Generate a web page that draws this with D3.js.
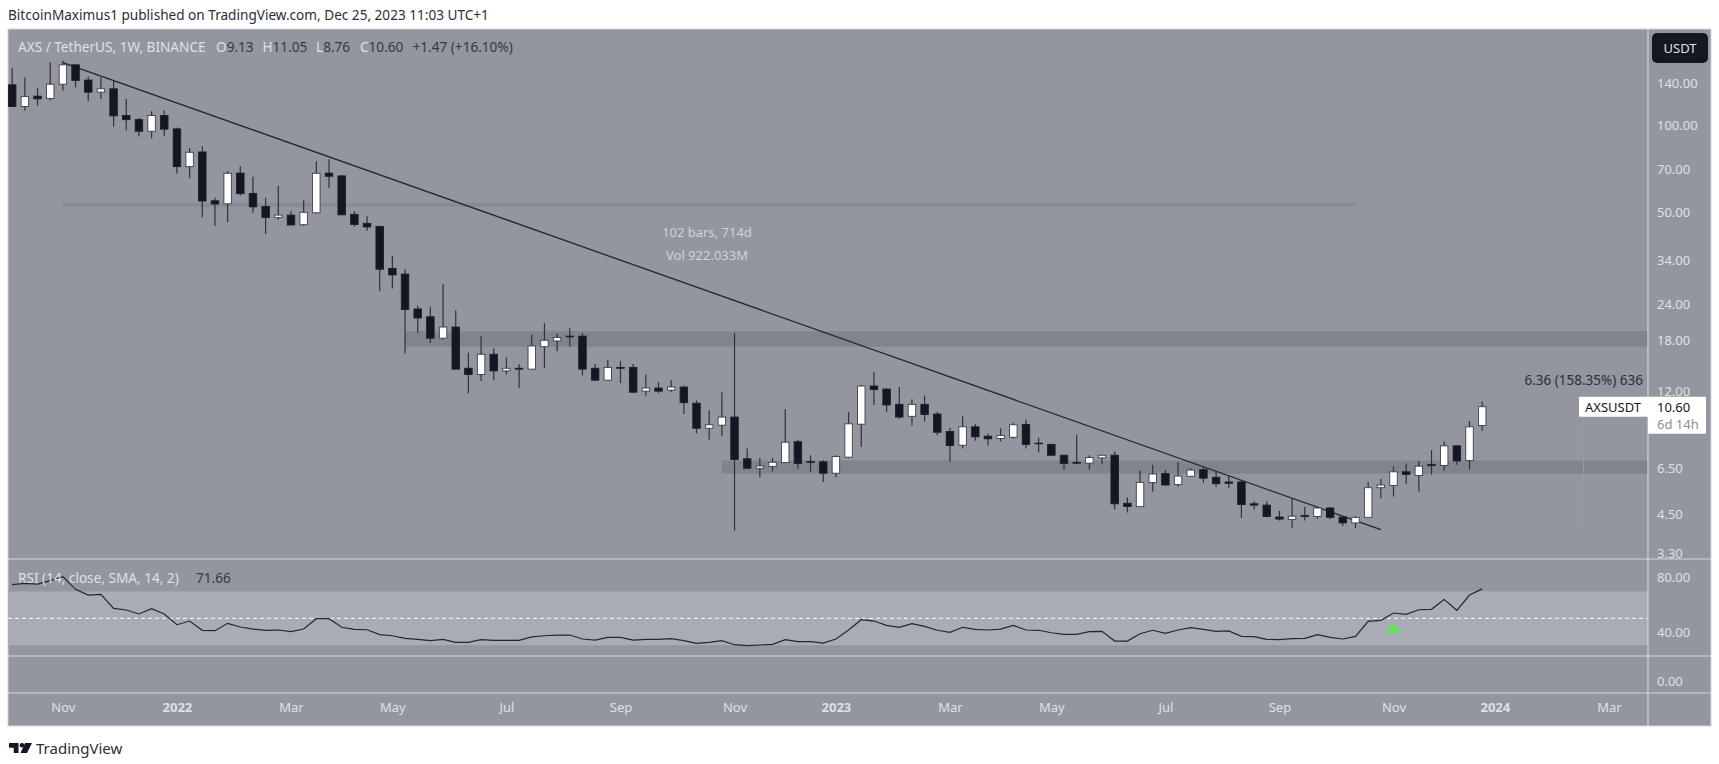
<!DOCTYPE html>
<html lang="en">
<head>
<title>AXS / TetherUS</title>
<meta charset="utf-8">
<style>
  body { margin: 0; background: #fff; }
  svg { display: block; font-family: 'Noto Sans', sans-serif; }
  .tick text { fill: #dfe1e6; font-size: 13px; font-family: 'Noto Sans', sans-serif; }
  .light { fill: #dfe1e6; }
  .dark { fill: #363942; }
</style>
</head>

<body>
<div id="chart"></div>

<script src="https://cdn.jsdelivr.net/npm/d3@7"></script>

<script type="text/javascript" charset="utf-8">

// weekly bars, first one is the week of 4 Oct 2021
var firstBar = "2021-10-04";

var opens = [137.8,115.9,125.9,123.5,138.5,161.6,143.1,130.0,133.5,107.9,
  104.4,95.2,107.9,97.0,71.8,80.7,54.7,53.4,68.2,58.0,
  52.3,47.9,48.8,45.2,49.7,68.2,66.7,49.1,45.7,44.6,
  31.9,30.5,23.1,21.7,18.3,20.0,14.4,13.7,16.1,14.1,
  14.4,14.3,17.1,17.9,18.6,18.6,14.4,13.1,14.5,14.5,
  12.0,12.3,12.1,12.4,10.9,8.93,9.15,9.76,7.0,6.49,
  6.59,6.79,8.02,6.85,6.83,6.24,7.09,9.22,12.5,12.2,
  10.8,9.82,10.8,10.0,8.7,7.8,9.03,8.38,8.23,8.31,
  9.2,7.93,7.85,7.2,6.8,6.76,7.05,7.2,4.91,4.78,
  5.79,6.22,5.7,6.09,6.42,6.04,5.82,5.82,4.89,4.84,
  4.4,4.32,4.46,4.42,4.73,4.4,4.2,4.39,5.56,5.66,
  6.31,6.13,6.68,6.64,7.76,6.9,9.13];

var highs = [157.3,146.4,134.8,165.1,166.9,161.6,147.2,146.4,143.4,123.0,
  105.7,111.7,112.3,98.0,83.3,84.5,56.0,69.2,72.0,66.3,
  56.0,61.6,50.3,54.9,74.9,76.2,67.2,50.4,48.4,44.6,
  35.2,31.7,23.7,23.5,28.2,22.8,16.3,18.6,16.9,15.7,
  14.9,18.8,20.6,19.0,19.9,19.1,14.9,15.4,15.3,14.9,
  13.7,12.9,13.1,12.55,11.15,10.3,11.9,19.1,7.6,7.05,
  7.05,10.4,8.15,7.2,6.92,7.2,10.16,12.6,13.95,12.25,
  12.4,11.25,11.6,10.16,8.96,9.8,9.25,8.56,8.91,9.33,
  9.58,8.28,7.89,7.23,8.47,7.2,7.23,7.42,5.15,6.37,
  6.67,6.4,6.83,6.49,6.56,6.32,6.09,5.88,4.99,4.99,
  4.62,5.12,4.78,4.78,4.77,4.44,4.44,5.82,5.96,6.59,
  6.74,6.88,7.5,8.03,7.76,9.47,11.05];

var lows = [115.9,112.2,116.8,121.5,131.7,134.8,121.2,123.2,98.8,95.7,
  91.2,90.0,91.5,67.9,65.4,47.9,44.7,46.1,57.0,49.7,
  42.0,47.0,45.1,44.7,49.3,60.6,48.9,44.5,43.0,26.6,
  27.2,16.2,19.1,17.6,18.1,14.3,11.8,13.0,13.1,13.7,
  12.3,14.3,14.4,16.5,17.1,13.6,13.0,13.0,12.8,11.8,
  11.6,11.8,11.9,10.0,8.58,8.16,8.38,3.95,6.49,6.04,
  6.33,6.79,6.47,6.32,5.82,6.04,7.04,7.69,10.75,10.16,
  9.63,9.13,9.42,8.45,6.83,7.6,8.08,7.78,8.03,8.22,
  7.6,7.36,7.2,6.42,6.72,6.42,6.69,4.67,4.56,4.78,
  5.39,5.65,5.6,6.07,5.79,5.6,5.55,4.37,4.67,4.39,
  4.28,4.04,4.28,4.34,4.32,4.1,4.02,4.39,5.11,5.18,
  5.73,5.39,6.17,6.37,6.68,6.42,8.76];

var closes = [115.9,125.5,123.2,138.5,161.6,142.6,130.0,133.5,107.6,104.4,
  95.2,107.9,96.8,71.8,80.5,54.6,53.3,68.1,57.9,52.1,
  47.9,48.8,45.1,49.9,68.1,66.5,48.9,45.3,44.4,31.7,
  30.3,23.0,21.5,18.3,20.0,14.3,13.7,16.1,14.1,14.4,
  14.3,17.2,18.0,18.4,18.5,14.3,13.1,14.5,14.4,11.9,
  12.3,12.0,12.4,10.95,8.93,9.18,9.76,6.96,6.49,6.61,
  6.81,7.99,6.74,6.81,6.24,7.13,9.25,12.5,12.15,10.75,
  9.76,10.8,9.96,8.65,7.78,9.03,8.34,8.21,8.43,9.18,
  7.85,7.89,7.2,6.74,6.76,7.07,7.2,4.89,4.79,5.8,
  6.2,5.68,6.1,6.4,6.0,5.74,5.76,4.86,4.84,4.42,
  4.33,4.43,4.42,4.73,4.39,4.2,4.39,5.56,5.68,6.31,
  6.18,6.6,6.63,7.76,6.88,9.03,10.60];

var rsiValues = [74.7,75.7,75.2,77.7,80.6,71.3,67.1,67.6,57.3,56.1,
  53.2,57.1,53.2,45.3,48.0,41.2,40.9,46.3,43.6,42.1,
  41.2,41.4,40.2,42.1,49.7,49.7,43.4,41.9,41.6,38.0,
  37.2,35.3,34.5,33.6,34.5,32.3,32.3,34.3,33.8,33.8,
  33.8,36.3,37.2,37.7,37.7,34.8,34.0,36.0,36.0,34.0,
  34.5,34.5,35.0,33.6,31.6,32.3,33.6,30.6,29.9,30.4,
  30.9,34.3,32.8,32.8,31.8,34.8,41.4,49.0,48.0,44.8,
  43.4,46.1,44.1,41.2,39.7,43.4,41.9,41.4,42.1,44.8,
  41.4,41.2,39.4,38.2,38.2,40.2,40.4,33.3,33.3,38.7,
  41.2,38.9,41.4,43.1,41.9,40.4,40.7,36.7,36.5,34.5,
  34.3,35.0,35.3,38.0,36.0,34.8,36.7,47.8,48.5,53.9,
  52.9,56.3,56.6,63.9,55.9,67.1,71.66];

var priceTicks = [140, 100, 70, 50, 34, 24, 18, 12, 6.5, 4.5, 3.3];
var rsiTicks = [80, 40, 0];
var monthTicks = ["2021-11-01","2022-01-03","2022-03-07","2022-05-02","2022-07-04","2022-09-05","2022-11-07",
  "2023-01-02","2023-03-06","2023-05-01","2023-07-03","2023-09-04","2023-11-06","2024-01-01","2024-03-04"];
var monthLabels = ["Nov","2022","Mar","May","Jul","Sep","Nov","2023","Mar","May","Jul","Sep","Nov","2024","Mar"];

// grey zones: low price, high price, first week, last week
var zoneLow = [52.1, 17.1, 6.22];
var zoneHigh = [53.8, 19.35, 6.9];
var zoneFrom = ["2021-11-01", "2022-05-09", "2022-10-31"];
var zoneTo = ["2023-10-16", "2024-06-24", "2024-06-24"];
var zoneFill = ["#888b94", "#81848d", "#81848d"];

var trendDates = ["2021-11-01", "2023-10-30"];
var trendPrices = [164.6, 3.98];

var bars = closes.map(function (d, i) {
  return {
    date: d3.utcDay.offset(new Date(firstBar), i * 7),
    open: opens[i], high: highs[i], low: lows[i], close: d, rsi: rsiValues[i]
  };
});

var W = 1719, H = 764;
var plotLeft = 8, plotRight = 1648, panelRight = 1711, panelTop = 29, mainBottom = 559, rsiLine = 656, rsiBottom = 693, panelBottom = 726;

var x = d3.scaleUtc().domain([bars[0].date, bars[bars.length - 1].date]).range([12.2, 1482.2]);
var y = d3.scaleLog().domain([3.15, 215]).range([mainBottom, panelTop]);
var yRsi = d3.scaleLinear().domain([-4.9, 93.6]).range([rsiBottom, mainBottom]);

var svg = d3.select("#chart").append("svg").attr("width", W).attr("height", H);

svg.append("defs").append("clipPath").attr("id", "plot")
  .append("rect").attr("x", plotLeft).attr("y", panelTop).attr("width", plotRight - plotLeft).attr("height", rsiBottom - panelTop);

// panel background
svg.append("rect").attr("x", plotLeft).attr("y", panelTop).attr("width", panelRight - plotLeft).attr("height", panelBottom - panelTop)
  .attr("fill", "#93969e").attr("stroke", "#d4d6db");

var plot = svg.append("g").attr("clip-path", "url(#plot)");

// zones
plot.selectAll(".zone").data(zoneLow).enter().append("rect")
  .attr("x", function (d, i) { return x(new Date(zoneFrom[i])); })
  .attr("width", function (d, i) { return x(new Date(zoneTo[i])) - x(new Date(zoneFrom[i])); })
  .attr("y", function (d, i) { return y(zoneHigh[i]); })
  .attr("height", function (d, i) { return y(d) - y(zoneHigh[i]); })
  .attr("fill", function (d, i) { return zoneFill[i]; });

// measure line, very faint
plot.append("line")
  .attr("x1", x(new Date("2024-02-19"))).attr("x2", x(new Date("2024-02-19")))
  .attr("y1", y(10.38)).attr("y2", y(4.02))
  .attr("stroke", "#8ba595").attr("stroke-width", 1);

// trend line
plot.append("line")
  .attr("x1", x(new Date(trendDates[0]))).attr("y1", y(trendPrices[0]))
  .attr("x2", x(new Date(trendDates[1]))).attr("y2", y(trendPrices[1]))
  .attr("stroke", "#24272f").attr("stroke-width", 1.3);

// candles
var bodyW = 7.5;
var candle = plot.selectAll(".candle").data(bars).enter().append("g").attr("class", "candle");

candle.append("line")
  .attr("x1", function (d) { return x(d.date); })
  .attr("x2", function (d) { return x(d.date); })
  .attr("y1", function (d) { return y(d.high); })
  .attr("y2", function (d) { return y(d.low); })
  .attr("stroke", "#2e313b").attr("stroke-width", 1.2);

candle.append("rect")
  .attr("x", function (d) { return x(d.date) - bodyW / 2; })
  .attr("width", bodyW)
  .attr("y", function (d) { return y(Math.max(d.open, d.close)); })
  .attr("height", function (d) { return Math.max(0.6, Math.abs(y(d.open) - y(d.close))); })
  .attr("fill", function (d) { return d.close >= d.open ? "#ffffff" : "#131722"; })
  .attr("stroke", function (d) { return d.close >= d.open ? "#3c3f49" : "#1c1f29"; })
  .attr("stroke-width", 0.9);

// rsi band
plot.append("rect")
  .attr("x", plotLeft).attr("width", plotRight - plotLeft)
  .attr("y", yRsi(70)).attr("height", yRsi(30) - yRsi(70))
  .attr("fill", "#a9acb5");

plot.selectAll(".bandEdge").data([70, 30]).enter().append("line")
  .attr("x1", plotLeft).attr("x2", plotRight)
  .attr("y1", function (d) { return yRsi(d); })
  .attr("y2", function (d) { return yRsi(d); })
  .attr("stroke", "#9a9da6");

plot.append("line")
  .attr("x1", plotLeft).attr("x2", plotRight)
  .attr("y1", yRsi(50)).attr("y2", yRsi(50))
  .attr("stroke", "#ffffff").attr("stroke-width", 1).attr("stroke-dasharray", "4 3");

var rsiLinePath = d3.line()
  .x(function (d) { return x(d.date); })
  .y(function (d) { return yRsi(d.rsi); });

plot.append("path").datum(bars)
  .attr("d", rsiLinePath)
  .attr("fill", "none").attr("stroke", "#24272f").attr("stroke-width", 1.2);

// green arrow under the 50 line, Nov 2023
var arrowX = x(new Date("2023-11-06"));
svg.append("path")
  .attr("d", d3.line()([[arrowX - 9, yRsi(39.2)], [arrowX, yRsi(46.5)], [arrowX + 9, yRsi(39.2)]]) + "Z")
  .attr("fill", "#66e25f");

// separators
svg.selectAll(".sep").data([mainBottom, rsiLine, rsiBottom]).enter().append("line")
  .attr("x1", plotLeft).attr("x2", panelRight)
  .attr("y1", function (d) { return d; })
  .attr("y2", function (d) { return d; })
  .attr("stroke", "#d4d6db").attr("stroke-width", 1.2);

svg.append("line")
  .attr("x1", plotRight).attr("x2", plotRight).attr("y1", panelTop).attr("y2", panelBottom)
  .attr("stroke", "#d4d6db").attr("stroke-width", 1.2);

// axes
svg.append("g").attr("transform", "translate(" + plotRight + ",0)")
  .call(d3.axisRight(y).tickValues(priceTicks).tickFormat(d3.format(".2f")).tickSize(0).tickPadding(9))
  .call(function (g) { g.select(".domain").remove(); });

svg.append("g").attr("transform", "translate(" + plotRight + ",0)")
  .call(d3.axisRight(yRsi).tickValues(rsiTicks).tickFormat(d3.format(".2f")).tickSize(0).tickPadding(9))
  .call(function (g) {
    g.select(".domain").remove();
    // the 0.00 label sits a little above its level in the original
    g.selectAll(".tick text").filter(function (d) { return d === 0; }).attr("dy", "-0.05em");
  });

svg.append("g").attr("transform", "translate(0," + (rsiBottom + 7) + ")")
  .call(d3.axisBottom(x).tickValues(monthTicks.map(function (d) { return new Date(d); }))
    .tickFormat(function (d, i) { return monthLabels[i]; }).tickSize(0).tickPadding(3))
  .call(function (g) {
    g.select(".domain").remove();
    g.selectAll(".tick text")
      .style("font-weight", function (d, i) { return /^20/.test(monthLabels[i]) ? "700" : "400"; });
  });

// USDT button
svg.append("rect").attr("x", 1652).attr("y", 33).attr("width", 56).attr("height", 30).attr("rx", 5).attr("fill", "#131722");
svg.append("text").attr("x", 1680).attr("y", 53).attr("text-anchor", "middle").attr("fill", "#dfe1e6").attr("font-size", 13).text("USDT");

// last price labels
svg.append("rect").attr("x", 1579).attr("y", y(10.6) - 10).attr("width", 69).attr("height", 20).attr("rx", 1).attr("fill", "#ffffff");
svg.append("rect").attr("x", 1648).attr("y", y(10.6) - 10).attr("width", 58).attr("height", 37).attr("rx", 1).attr("fill", "#ffffff");
svg.append("text").attr("x", 1613).attr("y", y(10.6) + 5).attr("text-anchor", "middle").attr("fill", "#131722").attr("font-size", 13).text("AXSUSDT");
svg.append("text").attr("x", 1657).attr("y", y(10.6) + 5).attr("fill", "#131722").attr("font-size", 13).text("10.60");
svg.append("text").attr("x", 1657).attr("y", y(10.6) + 22).attr("fill", "#8b8e97").attr("font-size", 13).text("6d 14h");

// texts
svg.append("text").attr("x", 8).attr("y", 20).attr("fill", "#2b2e38").attr("font-size", 13.6)
  .text("BitcoinMaximus1 published on TradingView.com, Dec 25, 2023 11:03 UTC+1");

var legendParts = ["AXS / TetherUS, 1W, BINANCE", "O", "9.13", "H", "11.05", "L", "8.76", "C", "10.60", "+1.47 (+16.10%)"];
var legendStyle = ["light", "light", "dark", "light", "dark", "light", "dark", "light", "dark", "dark"];
var legendX = [18, 216, null, 262.5, null, 316, null, 360, null, 412.5];

var legend = svg.append("text").attr("y", 52).attr("font-size", 13.6);
legendParts.forEach(function (p, i) {
  var t = legend.append("tspan").attr("class", legendStyle[i]).text(p);
  if (legendX[i] !== null) t.attr("x", legendX[i]);
});

var rsiLegend = svg.append("text").attr("y", 583).attr("font-size", 13.6);
rsiLegend.append("tspan").attr("x", 18).attr("class", "light").text("RSI (14, close, SMA, 14, 2)");
rsiLegend.append("tspan").attr("x", 196).attr("class", "dark").text("71.66");

svg.append("text").attr("x", 707).attr("y", 237).attr("text-anchor", "middle").attr("fill", "#d0d2d8").attr("font-size", 13).text("102 bars, 714d");
svg.append("text").attr("x", 707).attr("y", 260).attr("text-anchor", "middle").attr("fill", "#d0d2d8").attr("font-size", 13).text("Vol 922.033M");

svg.append("text").attr("x", 1643).attr("y", 385).attr("text-anchor", "end").attr("fill", "#2b2e38").attr("font-size", 13.5).text("6.36 (158.35%) 636");

// logo
var logo = svg.append("g").attr("transform", "translate(9,743)").attr("fill", "#131722");
logo.append("path").attr("d", "M0 0H9.5V10H4.7V4.7H0Z");
logo.append("circle").attr("cx", 13).attr("cy", 2.3).attr("r", 2.3);
logo.append("path").attr("d", "M16 0H23L18 10H11.5Z");
svg.append("text").attr("x", 36).attr("y", 754).attr("fill", "#2b2e38").attr("font-size", 15).text("TradingView");

</script>
</body>

</html>
